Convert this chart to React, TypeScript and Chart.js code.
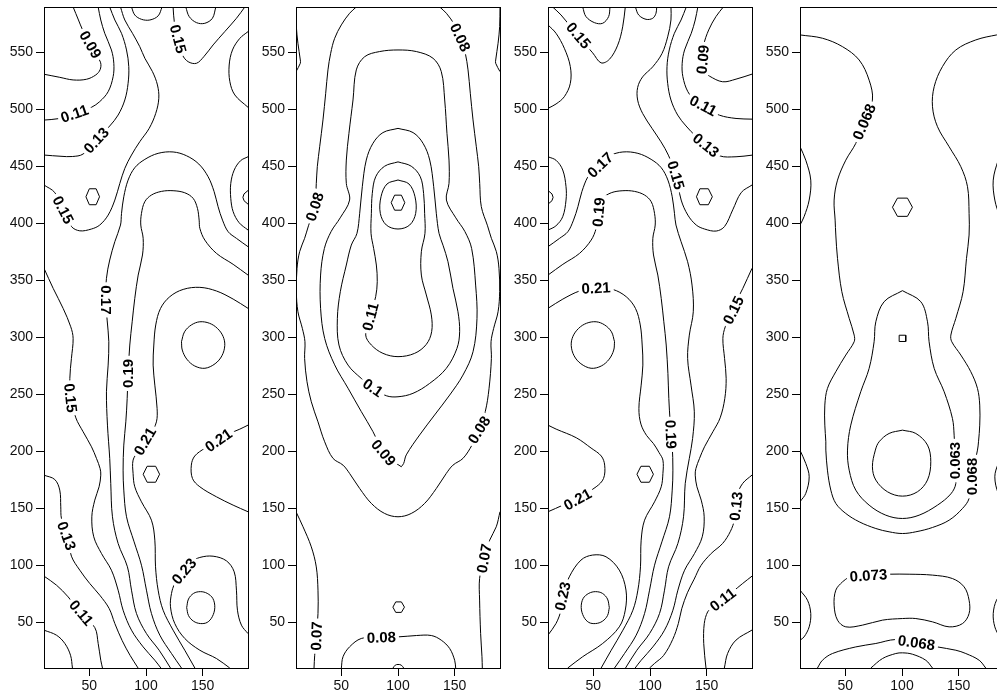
import React, { useEffect, useRef } from "react";
import { Chart, registerables } from "chart.js";

Chart.register(...registerables);

// ---------- axes ----------
const X_MIN = 10;
const X_MAX = 190;
const Y_MIN = 10;
const Y_MAX = 590;
const X_TICKS = [50, 100, 150];
const Y_TICKS = [50, 100, 150, 200, 250, 300, 350, 400, 450, 500, 550];

type Label = [string, number, number, number]; // text, x, y, angle(deg)

// ---------- panel 1 ----------
const P1_CURVES: number[][] = [
  [35.7, 590, 40.4, 578.6, 44, 570, 51, 556, 56.5, 547, 60, 541, 59.5, 535, 55.7, 530.4, 47.5, 526.6, 35.7, 526, 23.9, 528.3, 10, 531],
  [57.8, 590, 60.1, 578.6, 63.6, 566.9, 69.5, 552.3, 71.6, 540.6, 71, 528.9, 66.6, 515.7, 59.2, 507, 51.9, 502, 37.2, 496, 22.5, 492, 10, 490.8],
  [68, 590, 72.5, 578.6, 78.4, 566.9, 82.8, 552.3, 84.8, 537.7, 84.2, 523, 81.3, 508.4, 75.4, 495.2, 68, 485.6, 56.3, 473.3, 44.5, 461, 35, 458.8, 25, 459, 10, 460.1],
  [77.5, 590, 81.3, 578.6, 88.1, 566.9, 94.5, 555.2, 99, 545, 105.7, 533.3, 110.1, 521.6, 111.3, 509.9, 108.6, 496.7, 102.8, 483.5, 94.5, 471.8, 87.2, 460.1, 81.3, 448.4, 76.9, 435.2, 72.5, 420.6, 66.6, 407.4, 59.2, 398.7, 51.9, 395.2, 41.6, 393.6, 34.2, 397.4, 27, 412, 19.5, 427.2, 10, 433.8],
  [123.9, 590, 125.1, 575.7, 128.4, 561.1, 132.2, 547.9, 137.2, 542, 144.5, 540.6, 151, 546.4, 159.2, 556.7, 169.5, 568.4, 179.8, 580.1, 187.2, 590],
  [87.2, 590, 90.1, 583, 96, 579.2, 103.4, 578.6, 110.7, 582.2, 114.2, 590],
  [135.1, 590, 138.1, 581.6, 144.5, 576.3, 151.9, 575.7, 158.6, 580.1, 161.6, 590],
  [190, 568.4, 182.8, 562.5, 176.3, 552.3, 173.4, 539.1, 174, 524.5, 178.4, 512.8, 190, 502],
  [190, 458.6, 183.4, 455.1, 177.8, 446.9, 174.8, 435.2, 174.8, 422.1, 176.9, 410.4, 182.2, 400.7, 190, 394.3],
  [190, 379.7, 179.8, 387, 172.5, 392.8, 167.5, 403, 163.6, 414.8, 160.1, 428, 154.8, 441.1, 146.6, 452.2, 135.7, 459.5, 123.9, 462.8, 110.7, 461.6, 99, 456.3, 90.1, 449, 84.2, 438.1, 80.4, 423.5, 78.4, 408.9, 77.5, 398.7, 72.5, 384.1, 68, 368, 65.1, 351.9, 64.5, 332.9, 65.7, 315.3, 67.2, 296.3, 66.6, 275.8, 65.1, 252.4, 66, 223.1, 68, 193.9, 68.9, 172, 70.4, 142.7, 75.4, 119.3, 83.6, 98.8, 87.2, 78.3, 91.6, 57.8, 100.4, 40.2, 111.6, 25.6, 121.6, 10],
  [190, 354.8, 176.9, 364.2, 162.2, 373.8, 151.9, 385.5, 147.5, 395.8, 146.9, 403, 145.4, 413.3, 141.6, 422.1, 134.2, 427, 123.9, 428.8, 113.6, 428.2, 104.8, 425, 98.9, 419.1, 96, 408.9, 95.4, 398.7, 97.5, 387, 96.9, 372.4, 93.1, 354.8, 90.1, 334.3, 87.8, 313.8, 85.7, 293.4, 84.2, 268.5, 83.4, 246.5, 82.2, 226, 80.4, 205.6, 79.8, 183.6, 80.4, 166.1, 82.8, 142.7, 89.5, 120.7, 96, 100.2, 100.4, 78.3, 104.8, 57.8, 112.2, 38.8, 122.5, 22.7, 131.3, 10],
  [190, 325.6, 176.9, 333.7, 162.2, 340.8, 147.5, 344, 132.8, 342.2, 121, 335.8, 112.8, 325.5, 108.6, 311, 106.9, 293.4, 106.3, 275.8, 107.8, 258.2, 109.8, 237.7, 109.2, 226, 104, 215, 99, 209.1, 93, 200, 88.6, 192.4, 88.6, 180.7, 90.1, 169, 96, 155.8, 104.8, 139.7, 107.8, 122.2, 108.4, 98.8, 110.7, 78.3, 115.1, 60.7, 123.9, 43.2, 134.2, 25.6, 143.1, 10],
  [190, 223.1, 182.8, 219.6, 165, 212, 152, 203, 143, 196, 140, 188, 141, 176.3, 147.5, 169, 162.2, 160.2, 176.9, 152.9, 190, 147.1],
  [173.9, 10, 162.2, 18.3, 147.5, 25.6, 134.2, 35.9, 125.4, 49, 121.6, 63.7, 122.5, 75.4, 125.4, 84.1, 133, 95, 140, 103, 147.5, 107, 159.2, 108.1, 171, 104, 177.8, 94.4, 179.8, 78.3, 180.7, 60.7, 184.2, 47.6, 190, 40.2],
  [10, 179.2, 19.5, 175.4, 23.9, 166.1, 24.8, 151.4, 25.4, 141.2, 30.7, 125.7, 34.2, 108.1, 41.6, 95.8, 50.4, 84.1, 59.2, 73.9, 67.5, 62.2, 72.5, 49, 79, 34, 86, 21, 93, 10],
  [10, 90.6, 21, 82.7, 31.3, 72.4, 42.2, 58.4, 54.8, 45.5, 57.8, 31.5, 60.1, 16.8, 61.6, 10],
  [10, 43.2, 21, 38.8, 28.4, 31.5, 33.4, 21.2, 35.1, 10],
  [10, 360.7, 18.1, 343.1, 26.9, 325.5, 33.6, 309.4, 35.7, 299.2, 34.2, 281.6, 32.8, 264.1, 34, 246.5, 38.1, 229.5, 44.5, 217.3, 51.9, 204.1, 56.3, 193.9, 59.5, 185, 60.1, 179.2, 58.6, 169, 54.8, 157.3, 52.2, 142.7, 53.9, 125.1, 60.7, 110.5, 69.5, 95.8, 75.4, 78.3, 79.8, 60.7, 87.2, 43.2, 97.5, 28.5, 107.8, 16.8, 113.1, 10],
  [131.3, 296.3, 134, 305, 140, 311, 147.5, 313.8, 156, 312.5, 163, 308, 168, 301, 169.5, 293, 167, 284, 161, 277, 152, 273, 143, 275, 136, 281, 132, 289, 131.3, 296.3],
  [135.9, 63, 137.5, 70.5, 142, 75.5, 148, 77, 154, 75.5, 159, 71, 160.7, 63, 158.5, 55, 154, 50, 148, 49, 142, 51, 137.5, 56, 135.9, 63],
];
const P1_POLYS: number[][] = [
  [47, 423.5, 50, 430.5, 56, 430.5, 59, 423.5, 56, 416.5, 50, 416.5, 47, 423.5],
  [190, 429, 186.5, 426, 185.5, 423, 186.5, 420, 190, 417],
  [97.5, 180, 101, 187, 108.5, 187, 112, 180, 108.5, 173, 101, 173, 97.5, 180],
];
const P1_LABELS: Label[] = [
  ["0.09", 51, 557, 60],
  ["0.11", 37, 496.5, -19],
  ["0.13", 56, 473, -47],
  ["0.15", 128.4, 562, 75],
  ["0.15", 27, 412, 63],
  ["0.17", 64.5, 333, 90],
  ["0.19", 84.2, 268.5, -90],
  ["0.15", 33.5, 247, 84],
  ["0.21", 99, 209, -60],
  ["0.21", 164, 210, -35],
  ["0.13", 30, 126, 70],
  ["0.11", 43, 58.5, 50],
  ["0.23", 133.5, 95, -50],
];

// ---------- panel 2 ----------
const P2_CURVES: number[][] = [
  [63.2, 590, 57.3, 584.5, 50, 574.3, 44.1, 562.5, 40.6, 549.4, 38.2, 534.8, 36.2, 514.3, 33.8, 490.9, 30.9, 467.4, 28.8, 449.9, 27.9, 435.2, 26.5, 414.8, 21, 398, 17.6, 387, 13.2, 375.3, 10.9, 360.7, 10.3, 340.2, 11.7, 322.6, 15.6, 308, 17.9, 296.3, 17.6, 281.6, 19.7, 261.2, 23.5, 243.6, 29.4, 226, 35.3, 208.5, 42.6, 194, 51.5, 188, 57.3, 180.7, 66.2, 167.5, 76.5, 154.4, 88.2, 145.6, 100, 142.7, 111.7, 145.6, 123.5, 154.4, 133.8, 167.5, 142.6, 180.7, 148.5, 188, 157.4, 194, 165.5, 206, 171.5, 219, 177, 235, 180.3, 255, 182.4, 281.6, 182.1, 296.3, 184.4, 308, 188.3, 322.6, 189.7, 340.2, 189.1, 360.7, 186.8, 375.3, 182.4, 387, 179, 398, 173.5, 414.8, 172.1, 435.2, 171.2, 449.9, 169.1, 467.4, 166.2, 490.9, 163.8, 514.3, 161.8, 534.8, 159.4, 549.4, 155.9, 562.5, 150, 574.3, 142.7, 584.5, 136.8, 590],
  [102.9, 186.6, 95, 192, 87.3, 198.7, 77.9, 217.4, 67.6, 235, 55.9, 255.5, 44.1, 276, 35.3, 299.2, 31.7, 325.6, 31.7, 354.8, 35, 378, 41, 393, 49, 405, 57.3, 420.6, 54.4, 435.2, 54.4, 455.7, 56.7, 479.1, 60.3, 508.4, 63.2, 534.8, 70.6, 546.4, 83.8, 550.9, 100, 552.3, 116.2, 550.9, 130.9, 545, 138.2, 533.3, 141.2, 508.4, 143.2, 479.1, 145, 455.7, 145, 435.2, 142.7, 420.6, 151, 405, 159, 393, 165, 378, 168.5, 346, 169.7, 316.8, 166.2, 287.5, 157.3, 267, 145.6, 249.5, 132.3, 232, 119.1, 214.5, 107.3, 197, 105, 189.5, 102.9, 186.6],
  [100, 483.5, 86.7, 479.8, 77.9, 470.4, 72, 455.7, 68.5, 432.3, 66.2, 409, 63.8, 391.4, 58.8, 381.1, 54.4, 363.6, 49.1, 340.2, 46.5, 316.8, 47.9, 293.4, 55.9, 275.8, 67.6, 264.1, 77.9, 255.9, 89.7, 248.9, 100, 248, 113.2, 251, 127.9, 259.7, 142.6, 272.9, 152, 290.4, 154.4, 305.1, 152.9, 322.6, 148.5, 343.1, 144.1, 366.5, 139.7, 381, 136.2, 391.4, 133.8, 409, 131.5, 432.3, 128, 455.7, 122.1, 470.4, 113.3, 479.8, 100, 483.5],
  [100, 454.1, 88.2, 450.3, 80.3, 441, 77.3, 426.3, 76.5, 408.9, 76.2, 391.4, 78.5, 378.2, 80.9, 363.6, 81.7, 349, 80.3, 335.8, 75.6, 318.3, 71.5, 302.2, 76.5, 293.4, 86.7, 286.1, 100, 283.2, 114.7, 286.1, 125, 294, 129.7, 305.1, 129.4, 319.8, 125, 337.3, 120.6, 354.8, 120.6, 375.3, 123.8, 391.4, 123.5, 408.9, 122.6, 426.3, 119.7, 441, 111.7, 450.3, 100, 454.1],
  [100, 438.2, 109.7, 434.7, 115, 423.5, 115.6, 408.9, 110.3, 398.7, 100, 395.2, 89.7, 398.7, 84.4, 408.9, 85, 423.5, 90.3, 434.7, 100, 438.2],
  [10, 147.1, 16.2, 133.9, 23.5, 116.3, 27.9, 98.7, 29.4, 78.3, 29.4, 57.8, 28, 38, 26.5, 21.2, 25.9, 10],
  [190, 147.1, 186.7, 133.9, 180.9, 122.2, 175.9, 106.2, 172, 88.6, 172, 69.6, 172.9, 40.4, 174.1, 19.9, 174.4, 10],
  [50, 10, 51.5, 19.9, 57.3, 28.6, 67.6, 35.9, 85.3, 37.5, 100, 37.3, 116.2, 38.5, 129.4, 38.5, 138.2, 34.4, 145.6, 27.1, 150, 16.8, 150.9, 10],
  [95.6, 10, 97.6, 12.5, 100, 13.1, 102.9, 12.5, 105, 10],
  [10, 590, 10.3, 572.8, 11.7, 558.2, 13.8, 543.5, 13.8, 540.6, 10, 533.3],
  [190, 590, 189.7, 572.8, 188.3, 558.2, 186.2, 543.5, 186.2, 540.6, 190, 533.3],
];
const P2_POLYS: number[][] = [
  [94, 418.3, 97, 424.9, 103, 424.9, 106, 418.3, 103, 411.7, 97, 411.7, 94, 418.3],
  [95.5, 63.4, 98, 68, 103, 68, 105.7, 63.4, 103, 58.8, 98, 58.8, 95.5, 63.4],
];
const P2_LABELS: Label[] = [
  ["0.08", 155, 563.4, 65],
  ["0.08", 26.5, 414.8, -72],
  ["0.11", 75.6, 318.3, -75],
  ["0.1", 77.9, 256, 35],
  ["0.09", 87.3, 199, 50],
  ["0.08", 171.5, 219, -58],
  ["0.07", 175.9, 106.2, -80],
  ["0.07", 28, 38, -88],
  ["0.08", 85.3, 37, -2],
];

// ---------- panel 3 ----------
const P3_CURVES: number[][] = [
  [164.7, 590, 158.2, 581.6, 151.8, 569.9, 147.4, 556.7, 146.5, 544.1, 148, 533.3, 152.4, 529.4, 164.1, 524.4, 175.9, 526.7, 190, 531.1],
  [142.2, 590, 139.9, 578.6, 136.4, 566.9, 130.5, 552.3, 128.4, 540.6, 129, 528.9, 133.4, 515.7, 140.8, 507, 148.1, 502, 161.2, 495.1, 175.9, 492.2, 190, 491.6],
  [132, 590, 127.4, 578.6, 121.5, 566.9, 117, 552.3, 115, 537.7, 115.6, 523, 118.5, 508.4, 124.4, 495.2, 131.8, 485.6, 141, 476, 149.4, 468.8, 161.2, 459.5, 175.9, 458.6, 190, 460],
  [14.1, 590, 21.5, 583, 29, 574, 37.1, 565.5, 44, 556, 49.4, 549.8, 56.8, 541, 64.1, 544, 71.5, 556.5, 75.9, 572.6, 78.2, 590],
  [40.6, 590, 43.5, 581.6, 50.9, 576.3, 58.2, 575.7, 63.5, 581.6, 64.7, 590],
  [87.1, 590, 90, 583, 96.5, 579.2, 102.4, 580.1, 105.3, 584.5, 105.9, 590],
  [10, 574.3, 17.1, 566.9, 24.4, 553.8, 29.7, 537.7, 29.7, 523, 24.4, 511.3, 17.1, 504.9, 10, 501.1],
  [118.5, 590, 118.5, 578.6, 115.6, 563.8, 110.6, 549.2, 102.4, 537.5, 93.5, 528.7, 89.1, 519.4, 89.1, 508.3, 93.5, 496.6, 101.8, 483.5, 109.7, 471.7, 116.2, 460, 122.9, 442.5, 127.5, 420.6, 133.4, 407.4, 140.8, 398.7, 148.1, 395.2, 158.4, 393.4, 165.8, 397.4, 173, 412, 180.5, 427.2, 190, 433.8],
  [10, 458.6, 17.1, 455.5, 23, 447, 25.9, 432.3, 25.9, 420.6, 23, 406, 17, 398, 10, 394.2],
  [10, 379.7, 20.2, 387, 27.5, 392.8, 32.5, 403, 36.4, 414.8, 39.9, 428, 45.2, 441.1, 53.4, 452.2, 64.3, 459.5, 76.1, 462.8, 89.3, 461.6, 101, 456.3, 109.9, 449, 115.8, 438.1, 119.6, 423.5, 121.6, 408.9, 122.9, 398.7, 127.4, 384.1, 133.2, 366.5, 137.1, 346, 138.2, 322.6, 134.7, 302.1, 133.2, 281.6, 136.2, 258.2, 139.1, 234.8, 137.6, 211.4, 134.7, 193.9, 131.1, 172, 129.6, 142.7, 124.6, 119.3, 116.4, 98.8, 112.8, 78.3, 108.4, 57.8, 99.6, 40.2, 88.4, 25.6, 78.4, 10],
  [10, 354.8, 23.1, 364.2, 37.8, 373.8, 48.1, 385.5, 52.5, 395.8, 53.1, 403, 54.6, 413.3, 58.4, 422.1, 65.8, 427, 76.1, 428.8, 86.4, 428.2, 95.2, 425, 101.1, 419.1, 104, 408.9, 104.6, 398.7, 102.5, 387, 103.1, 372.4, 106.9, 354.8, 109.9, 334.3, 112.2, 313.8, 114.3, 293.4, 115.8, 268.5, 116.6, 246.5, 117.8, 226, 119.6, 205.6, 120.2, 183.6, 119.6, 166.1, 117.2, 142.7, 110.5, 120.7, 104, 100.2, 99.6, 78.3, 95.2, 57.8, 87.8, 38.8, 77.5, 22.7, 68.7, 10],
  [10, 325.6, 23.1, 333.7, 37.8, 340.8, 52.5, 344, 67.2, 342.2, 79, 335.8, 87.2, 325.5, 91.4, 311, 93.1, 293.4, 93.7, 275.8, 92.2, 258.2, 90.2, 237.7, 92, 224, 97, 214, 103, 207, 108, 199, 111.4, 192.4, 111.4, 180.7, 109.9, 169, 104, 155.8, 95.2, 139.7, 92.2, 122.2, 91.6, 98.8, 89.3, 78.3, 84.9, 60.7, 76.1, 43.2, 65.8, 25.6, 56.9, 10],
  [68.7, 296.3, 66, 305, 60, 311, 52.5, 313.8, 44, 312.5, 37, 308, 32, 301, 30.5, 293, 33, 284, 39, 277, 48, 273, 57, 275, 64, 281, 68, 289, 68.7, 296.3],
  [10, 223.1, 17.2, 219.6, 35, 212, 48, 203, 57, 196, 60, 188, 59, 176.3, 52.5, 169, 37.8, 160.2, 23.1, 152.9, 10, 147.1],
  [10, 38.9, 17.1, 49.1, 21.5, 60.8, 22.9, 73, 28.8, 90, 39.1, 104.7, 49.4, 109.1, 61.2, 107.6, 72.9, 95.9, 78.8, 78.4, 78.2, 60.8, 72.9, 46.1, 58.2, 31.5, 40.6, 19.9, 27.4, 10],
  [64.1, 63, 62.5, 70.5, 58, 75.5, 52, 77, 46, 75.5, 41, 71, 39.3, 63, 41.5, 55, 46, 50, 52, 49, 58, 51, 62.5, 56, 64.1, 63],
  [190, 360.7, 181.9, 343.1, 173.1, 325.5, 166.4, 309.4, 164.3, 299.2, 165.8, 281.6, 167.2, 264.1, 166, 246.5, 161.9, 229.5, 155.5, 217.3, 148.1, 204.1, 143.7, 193.9, 140.5, 185, 139.9, 179.2, 141.4, 169, 145.2, 157.3, 147.8, 142.7, 146.1, 125.1, 139.3, 110.5, 130.5, 95.8, 124.6, 78.3, 120.2, 60.7, 112.8, 43.2, 102.5, 28.5, 92.2, 16.8, 86.9, 10],
  [190, 179.3, 181.8, 172, 177, 162, 175.9, 152, 174.5, 140, 171, 130, 164.1, 119.3, 154, 110.5, 145, 100, 139, 88, 133, 76, 128, 62, 125, 49, 120, 35, 112, 21, 104, 14, 99.6, 10],
  [190, 90.6, 181.8, 84.2, 173, 77, 164.1, 70.1, 155, 63, 150.9, 59.3, 147.9, 49.1, 147.4, 31.5, 149.4, 10],
  [190, 43.3, 175.9, 34.5, 168.5, 22.8, 165.6, 10],
];
const P3_POLYS: number[][] = [
  [141, 423.5, 144, 430.5, 151.5, 430.5, 155, 423.5, 151.5, 416.5, 144, 416.5, 141, 423.5],
  [10, 429, 13.5, 426, 14.5, 423, 13.5, 420, 10, 417],
  [88.5, 180, 92, 187, 99.5, 187, 103, 180, 99.5, 173, 92, 173, 88.5, 180],
];
const P3_LABELS: Label[] = [
  ["0.15", 37, 565, 50],
  ["0.09", 146.5, 544, -85],
  ["0.11", 147, 503.5, 28],
  ["0.13", 149.4, 468.8, 39],
  ["0.17", 56, 451.5, -44],
  ["0.15", 122.9, 442.5, 74],
  ["0.19", 54.7, 410, -85],
  ["0.21", 52.4, 343.5, -3],
  ["0.15", 173.5, 324, -64],
  ["0.19", 118.5, 215, 88],
  ["0.21", 36, 158, -29],
  ["0.23", 22.9, 73, -78],
  ["0.13", 175.9, 152, -84],
  ["0.11", 164.1, 70.1, -38],
];

// ---------- panel 4 ----------
const P4_CURVES: number[][] = [
  [10, 565.5, 29.8, 562.6, 47.5, 555.2, 62.2, 543.5, 71, 525.8, 73.9, 508.3, 66.6, 489.3, 59.2, 470.3, 50.4, 455.6, 43.1, 438.1, 40.1, 420.6, 41, 403, 41.6, 389.9, 43.1, 369.4, 46.9, 340.2, 53.4, 316.8, 57.8, 302.1, 57.8, 296.3, 50.4, 284.6, 41.6, 270, 34.2, 255.3, 31.9, 240.7, 31.9, 223.1, 32.8, 208.5, 32.8, 201.2, 34.2, 183.6, 37.2, 166.1, 41.6, 154.4, 50.4, 145.6, 62.2, 138.3, 76.9, 132.4, 88.6, 129.5, 100.4, 128, 112.2, 129.5, 126.9, 133.3, 141.6, 139.7, 153.4, 150, 159.2, 158.8, 161.6, 177.8, 166.6, 201.2, 167.5, 208.5, 168.6, 223.1, 168.6, 240.7, 166.6, 255.3, 160.7, 270, 151.9, 284.6, 143.9, 296.3, 143.1, 302.1, 147.5, 316.8, 153.9, 340.2, 156.9, 369.4, 159.2, 389.9, 159.2, 408.9, 157.8, 432.3, 151.9, 449.9, 141.6, 467.4, 131.3, 485, 126.9, 502.5, 128.4, 520.1, 135.7, 537.7, 147.5, 552.3, 165.1, 561.1, 183.6, 565.5, 190, 566],
  [100.4, 341.1, 84.2, 331.4, 76.9, 313.8, 75.4, 296.3, 71, 272.9, 63.6, 252.4, 54.8, 223.1, 51.9, 201.2, 53.4, 183.6, 59.2, 166.1, 71, 152.9, 85.7, 144.1, 100.4, 141.2, 115.1, 144.1, 131.3, 152.9, 143.1, 162.8, 147.5, 172, 147, 192, 146, 214.3, 144.5, 229, 137.2, 252.4, 128.4, 272.9, 123.9, 296.3, 122.5, 313.8, 116.6, 331.4, 100.4, 341.1],
  [100.4, 218.7, 112.2, 215.8, 122.5, 205.6, 125.4, 191, 122.5, 175, 113.6, 164.6, 100.4, 160.8, 87.2, 164.6, 76.9, 174.9, 73.9, 186.6, 76.5, 201.2, 79.8, 208.5, 88.6, 215.8, 100.4, 218.7],
  [53.4, 90, 70.4, 91.5, 88.6, 92.3, 106.3, 92.3, 126.9, 91.5, 144.5, 88.5, 154.8, 81.2, 159.2, 69.5, 159.2, 57.8, 153.4, 49, 141.6, 46.1, 126.9, 50.5, 112.2, 53.4, 100.4, 53.4, 82.8, 52, 65.1, 47.6, 50.4, 46.1, 43.1, 52, 40.1, 65.1, 41.6, 78.3, 47.5, 85.6, 53.4, 90],
  [25.4, 10, 29.8, 16.8, 38.6, 22.7, 59.2, 28.5, 76.9, 31.5, 94.5, 35, 112.8, 32.5, 131.3, 28.5, 147.5, 25.6, 156.3, 22.7, 168.1, 16.8, 173.9, 10],
  [72.5, 10, 82.8, 18.3, 94.5, 22.7, 100.4, 23.3, 109.2, 22.1, 121, 16.8, 126.9, 10],
  [10, 467.5, 15.1, 455.6, 19.5, 438.1, 18.1, 420.6, 13.6, 406, 10, 398.7],
  [10, 201, 15.1, 189.5, 18.1, 177.8, 15.1, 163.2, 10, 155.9],
  [10, 78.3, 16.6, 69.5, 19.5, 57.8, 18.1, 46.1, 13.6, 37.3, 10, 34.4],
  [190, 467.5, 184.9, 455.6, 180.5, 438.1, 181.9, 420.6, 186.4, 406, 190, 398.7],
  [190, 201, 184.9, 189.5, 181.9, 177.8, 184.9, 163.2, 190, 155.9],
  [190, 78.3, 183.4, 69.5, 180.5, 57.8, 181.9, 46.1, 186.4, 37.3, 190, 34.4],
];
const P4_POLYS: number[][] = [
  [91.6, 414.3, 96, 422.3, 104.8, 422.3, 109.2, 414.3, 104.8, 406.3, 96, 406.3, 91.6, 414.3],
  [97.5, 296.5, 97.5, 302, 103.3, 302, 103.3, 296.5, 97.5, 296.5],
];
const P4_LABELS: Label[] = [
  ["0.068", 66.6, 489.3, -67],
  ["0.063", 147, 192, -90],
  ["0.068", 161.8, 178, -90],
  ["0.073", 70.4, 91.3, -4],
  ["0.068", 112.8, 32.3, 8],
];

const PANELS = [
  { curves: P1_CURVES, polys: P1_POLYS, labels: P1_LABELS },
  { curves: P2_CURVES, polys: P2_POLYS, labels: P2_LABELS },
  { curves: P3_CURVES, polys: P3_POLYS, labels: P3_LABELS },
  { curves: P4_CURVES, polys: P4_POLYS, labels: P4_LABELS },
];

// ---------- layout (styles) ----------
const CANVAS_W = 252;
const CANVAS_H = 697;
const CANVAS_LEFT = [0, 252, 504, 756];
const FONT = '"Liberation Sans", Arial, Helvetica, sans-serif';

function toPoints(flat: number[]) {
  const pts: { x: number; y: number }[] = [];
  for (let i = 0; i + 1 < flat.length; i += 2) pts.push({ x: flat[i], y: flat[i + 1] });
  return pts;
}

function align(v: number) {
  return Math.round(v - 0.5) + 0.5;
}

function ContourPanel({ index }: { index: number }) {
  const ref = useRef<HTMLCanvasElement | null>(null);

  useEffect(() => {
    const canvas = ref.current;
    if (!canvas) return;
    const panel = PANELS[index];
    const base = {
      showLine: true,
      borderColor: "#000",
      borderWidth: 1,
      pointRadius: 0,
      pointHoverRadius: 0,
      fill: false,
      clip: 0,
    };
    const datasets: any[] = [
      ...panel.curves.map((c) => ({ ...base, data: toPoints(c), tension: 0.35 })),
      ...panel.polys.map((c) => ({ ...base, data: toPoints(c), tension: 0 })),
    ];

    const labelPlugin = {
      id: "contourLabels",
      afterDatasetsDraw(chart: any) {
        const { ctx, chartArea: a } = chart;
        const xs = chart.scales.x;
        const ys = chart.scales.y;
        ctx.save();
        ctx.beginPath();
        ctx.rect(a.left + 1, a.top + 1, a.right - a.left - 2, a.bottom - a.top - 2);
        ctx.clip();
        ctx.font = `bold 15px ${FONT}`;
        ctx.textAlign = "center";
        ctx.textBaseline = "middle";
        for (const [t, lx, ly, ang] of panel.labels) {
          const px = xs.getPixelForValue(lx);
          const py = ys.getPixelForValue(ly);
          ctx.save();
          ctx.translate(px, py);
          ctx.rotate((ang * Math.PI) / 180);
          const w = ctx.measureText(t).width;
          ctx.fillStyle = "#fff";
          ctx.fillRect(-w / 2 - 3, -7, w + 6, 14);
          ctx.fillStyle = "#000";
          ctx.fillText(t, 0, 1);
          ctx.restore();
        }
        ctx.restore();
      },
    };

    const framePlugin = {
      id: "frame",
      afterDraw(chart: any) {
        const { ctx, chartArea: a } = chart;
        ctx.save();
        ctx.strokeStyle = "#000";
        ctx.lineWidth = 1;
        const l = align(a.left);
        const r = align(a.right);
        const t = align(a.top);
        const b = align(a.bottom);
        ctx.strokeRect(l, t, r - l, b - t);
        ctx.restore();
      },
    };

    const tickFont = { family: FONT, size: 14 };
    const chart = new Chart(canvas, {
      type: "scatter",
      data: { datasets },
      options: {
        animation: false,
        responsive: false,
        maintainAspectRatio: false,
        events: [],
        layout: { padding: { top: 7, right: 4, bottom: 0, left: 0 } },
        plugins: { legend: { display: false }, tooltip: { enabled: false }, title: { display: false } },
        scales: {
          x: {
            type: "linear",
            min: X_MIN,
            max: X_MAX,
            afterBuildTicks: (s: any) => {
              s.ticks = X_TICKS.map((v) => ({ value: v }));
            },
            afterFit: (s: any) => {
              s.height = 29;
              s.paddingLeft = 0;
              s.paddingRight = 0;
            },
            grid: { display: true, drawOnChartArea: false, drawTicks: true, tickLength: 8, color: "#000", lineWidth: 1 },
            border: { display: false },
            ticks: { color: "#111", font: tickFont, padding: 2, maxRotation: 0, autoSkip: false },
          },
          y: {
            type: "linear",
            min: Y_MIN,
            max: Y_MAX,
            afterBuildTicks: (s: any) => {
              s.ticks = Y_TICKS.map((v) => ({ value: v }));
            },
            afterFit: (s: any) => {
              s.width = 44;
              s.paddingTop = 0;
              s.paddingBottom = 0;
            },
            grid: { display: true, drawOnChartArea: false, drawTicks: true, tickLength: 8, color: "#000", lineWidth: 1 },
            border: { display: false },
            ticks: { color: "#111", font: tickFont, padding: 3, autoSkip: false },
          },
        },
      } as any,
      plugins: [labelPlugin, framePlugin],
    });
    return () => chart.destroy();
  }, [index]);

  return (
    <canvas
      ref={ref}
      width={CANVAS_W}
      height={CANVAS_H}
      style={{ position: "absolute", left: CANVAS_LEFT[index], top: 0, width: CANVAS_W, height: CANVAS_H }}
    />
  );
}

export default function App() {
  return (
    <div
      style={{
        position: "absolute",
        left: 0,
        top: 0,
        width: 997,
        height: 697,
        overflow: "hidden",
        background: "#fff",
      }}
    >
      {PANELS.map((_, i) => (
        <ContourPanel key={i} index={i} />
      ))}
    </div>
  );
}
